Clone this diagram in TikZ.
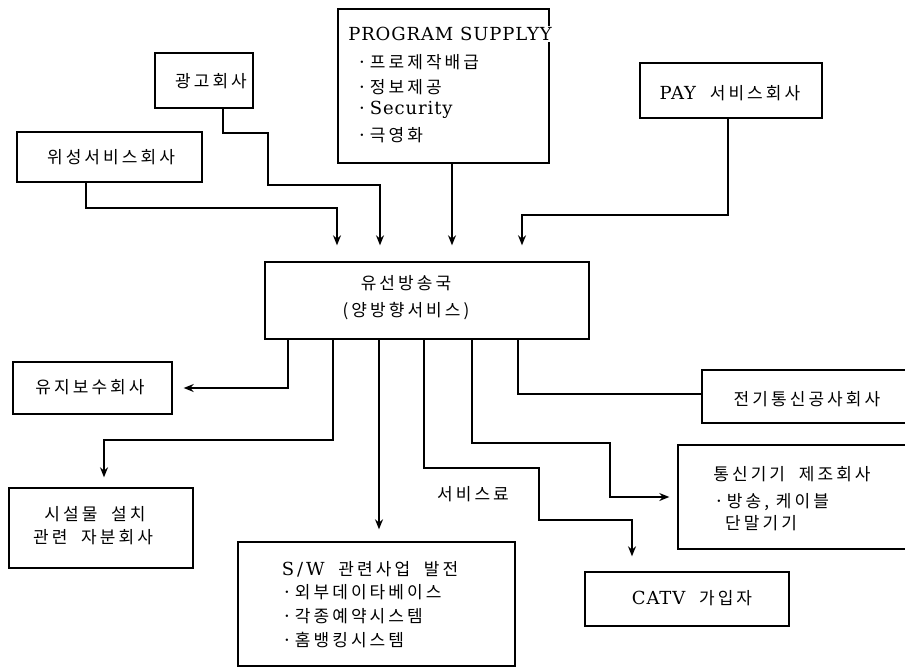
\documentclass[tikz,border=0pt]{standalone}
\usepackage{fontspec}
\setmainfont{DejaVu Serif}[LetterSpace=5]
\newfontfamily\kr[LetterSpace=18]{Noto Sans CJK KR}
\usetikzlibrary{arrows.meta}
\newcommand{\lat}{\rmfamily\fontsize{18}{20}\selectfont}
\newcommand{\han}{\kr\fontsize{17}{20}\selectfont}
\newcommand{\bul}{{\lat ·}\hspace{5pt}}
\begin{document}
\begin{tikzpicture}[x=1pt,y=-1pt,
  box/.style={draw, line width=1.4pt, inner sep=0pt},
  lbl/.style={inner sep=0pt, font=\han},
  conn/.style={line width=1.3pt},
  arr/.style={line width=1.3pt, -{Stealth[length=10pt,width=8pt]}}]
\clip (0,0) rectangle (905,669);
% boxes
\node[box, minimum width=185pt, minimum height=50pt] (sat) at (109.5,157) {};
\node[box, minimum width=98pt, minimum height=55pt] (ad) at (204,80.5) {};
\node[box, minimum width=211pt, minimum height=154pt] (prog) at (443.5,86) {};
\node[box, minimum width=182pt, minimum height=55pt] (pay) at (731,90.5) {};
\node[box, minimum width=324pt, minimum height=77pt] (main) at (427,300.5) {};
\node[box, minimum width=159pt, minimum height=52pt] (maint) at (92.5,388) {};
\node[box, minimum width=184pt, minimum height=80pt] (fac) at (101,528) {};
\node[box, minimum width=277pt, minimum height=124pt] (sw) at (376.5,604) {};
\node[box, minimum width=218pt, minimum height=53pt] (tel) at (811,396.5) {};
\node[box, minimum width=242pt, minimum height=104pt] (mfr) at (799,497) {};
\node[box, minimum width=204pt, minimum height=54pt] (catv) at (687,599) {};
% labels
\node[lbl] (tsat) at (111,157) {위성서비스회사};
\node[lbl] (tad) at (211,81) {광고회사};
\node[lbl] (tpay) at (730,93) {{\lat PAY}\ \ 서비스회사};
\node[lbl, fill=white, inner sep=1pt, font=\lat] (tprog) at (450,34) {PROGRAM SUPPLYY};
\node[lbl, anchor=west] (tp1) at (359,62) {\bul 프로제작배급};
\node[lbl, anchor=west] (tp2) at (359,87) {\bul 정보제공};
\node[lbl, anchor=west] (tp3) at (359,110) {\bul{\lat Security}};
\node[lbl, anchor=west] (tp4) at (359,135) {\bul 극영화};
\node[lbl, align=center, font=\kr\fontsize{17}{27}\selectfont] (tmain) at (406,298) {유선방송국\\(양방향서비스)};
\node[lbl] (tmaint) at (90,387) {유지보수회사};
\node[lbl] (tfac1) at (95,514) {시설물\ \ 설치};
\node[lbl] (tfac2) at (93,537) {관련\ \ 자분회사};
\node[lbl] (tsw) at (370,569) {{\lat S\,/\,W}\ \ 관련사업\ \ 발전};
\node[lbl, anchor=west] (tsw1) at (284,592) {\bul 외부데이타베이스};
\node[lbl, anchor=west] (tsw2) at (284,616) {\bul 각종예약시스템};
\node[lbl, anchor=west] (tsw3) at (284,640) {\bul 홈뱅킹시스템};
\node[lbl] (ttel) at (807,399) {전기통신공사회사};
\node[lbl] (tmfr1) at (792,474) {통신기기\ \ 제조회사};
\node[lbl, anchor=west] (tmfr2) at (716,502) {\bul 방송,\ 케이블};
\node[lbl, anchor=west] (tmfr3) at (725,523) {단말기기};
\node[lbl] (tcatv) at (692,598) {{\lat CATV}\ \ 가입자};
\node[lbl] (tfee) at (473,494) {서비스료};
% connectors into main
\draw[arr, shorten >=16pt] (ad.south -| 223,0) |- (268,133) |- (380,185) -- (main.north -| 380,0);
\draw[arr, shorten >=16pt] (sat.south -| 86,0) |- (337,208) -- (main.north -| 337,0);
\draw[arr, shorten >=16pt] (prog.south -| 452,0) -- (main.north -| 452,0);
\draw[arr, shorten >=16pt] (pay.south -| 728,0) |- (522,215) -- (main.north -| 522,0);
% connectors out of main
\draw[arr, shorten >=11pt] (main.south -| 288,0) |- (maint.east);
\draw[arr, shorten >=10pt] (main.south -| 333,0) |- (104,440) -- (fac.north -| 104,0);
\draw[arr, shorten >=12pt] (main.south -| 379,0) -- (sw.north -| 379,0);
\draw[arr, shorten >=15pt] (main.south -| 424,0) |- (539,468) |- (632,520) -- (catv.north -| 632,0);
\draw[arr, shorten >=8pt] (main.south -| 472,0) |- (610,443) |- (mfr.west |- 0,497);
\draw[conn] (main.south -| 518,0) |- (tel.west |- 0,394);
\end{tikzpicture}
\end{document}
